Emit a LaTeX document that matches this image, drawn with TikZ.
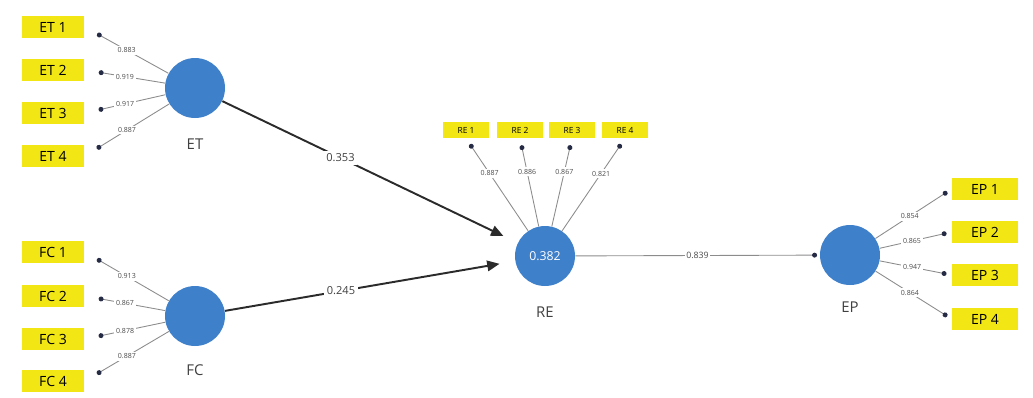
\documentclass[tikz,border=0pt]{standalone}
\usepackage{fontspec}
\setmainfont{Open Sans}
\usepackage{tikz}
\usetikzlibrary{arrows.meta, positioning}
\definecolor{latentBlue}{HTML}{3F80CB}
\definecolor{itemYellow}{HTML}{F2E714}
\definecolor{pathGray}{HTML}{2B2B2B}
\definecolor{dotNavy}{HTML}{262B45}

\begin{document}
\begin{tikzpicture}[x=0.02cm, y=-0.02cm,
    latent/.style={circle, fill=latentBlue, minimum size=1.2cm, inner sep=0pt, text=white, font=\fontsize{7}{8}\selectfont},
    lvname/.style={font=\fontsize{8.5}{9}\selectfont, text=black!75},
    item/.style={fill=itemYellow, minimum width=1.26cm, minimum height=0.44cm, inner sep=0pt, font=\fontsize{8}{9}\selectfont},
    smallitem/.style={fill=itemYellow, minimum width=0.92cm, minimum height=0.32cm, inner sep=0pt, font=\fontsize{4.8}{5}\selectfont},
    loading/.style={-{Circle[length=2.8pt, color=dotNavy]}, draw=black!45, line width=0.5pt, shorten >=8pt},
    weight/.style={fill=white, inner sep=1pt, text=black!70, font=\fontsize{4}{5}\selectfont},
    inner/.style={-{Triangle[length=7pt, width=6pt]}, draw=pathGray, fill=pathGray, line width=1.1pt, shorten >=9pt},
    coef/.style={fill=white, inner sep=1.5pt, text=black!75, font=\fontsize{6.3}{7}\selectfont},
]
    \useasboundingbox (0,0) rectangle (1033,397);

    \node[latent] (ET) at (195, 88) {};
    \node[latent] (FC) at (195, 316) {};
    \node[latent] (RE) at (545, 256) {0.382};
    \node[latent] (EP) at (850, 255) {};

    \node[lvname, below=0.28cm of ET] (ETname) {ET};
    \node[lvname, below=0.25cm of FC] (FCname) {FC};
    \node[lvname, below=0.28cm of RE] (REname) {RE};
    \node[lvname, below=0.2cm of EP] (EPname) {EP};

    \node[item] (ET1) at (53, 27) {ET 1};
    \node[item] (ET2) at (53, 70) {ET 2};
    \node[item] (ET3) at (53, 113) {ET 3};
    \node[item] (ET4) at (53, 156) {ET 4};

    \node[item] (FC1) at (53, 252) {FC 1};
    \node[item] (FC2) at (53, 296) {FC 2};
    \node[item] (FC3) at (53, 339) {FC 3};
    \node[item] (FC4) at (53, 381) {FC 4};

    \node[smallitem] (RE1) at (466, 130) {RE 1};
    \node[smallitem] (RE2) at (520, 130) {RE 2};
    \node[smallitem] (RE3) at (572, 130) {RE 3};
    \node[smallitem] (RE4) at (625, 130) {RE 4};

    \node[item, minimum width=1.32cm] (EP1) at (985, 189) {EP 1};
    \node[item, minimum width=1.32cm] (EP2) at (985, 232) {EP 2};
    \node[item, minimum width=1.32cm] (EP3) at (985, 275) {EP 3};
    \node[item, minimum width=1.32cm] (EP4) at (985, 319) {EP 4};

    \draw[loading] (ET) -- (ET1.east) node[weight, midway] {0.883};
    \draw[loading] (ET) -- (ET2.east) node[weight, midway] {0.919};
    \draw[loading] (ET) -- (ET3.east) node[weight, midway] {0.917};
    \draw[loading] (ET) -- (ET4.east) node[weight, midway] {0.887};

    \draw[loading] (FC) -- (FC1.east) node[weight, midway] {0.913};
    \draw[loading] (FC) -- (FC2.east) node[weight, midway] {0.867};
    \draw[loading] (FC) -- (FC3.east) node[weight, midway] {0.878};
    \draw[loading] (FC) -- (FC4.east) node[weight, midway] {0.887};

    \draw[loading, shorten >=4pt] (RE) -- (RE1.south) node[weight, pos=0.62] {0.887};
    \draw[loading, shorten >=4pt] (RE) -- (RE2.south) node[weight, pos=0.62] {0.886};
    \draw[loading, shorten >=4pt] (RE) -- (RE3.south) node[weight, pos=0.62] {0.867};
    \draw[loading, shorten >=4pt] (RE) -- (RE4.south) node[weight, pos=0.62] {0.821};

    \draw[loading, shorten >=3pt] (EP) -- (EP1.west) node[weight, pos=0.45] {0.854};
    \draw[loading, shorten >=3pt] (EP) -- (EP2.west) node[weight, pos=0.45] {0.865};
    \draw[loading, shorten >=3pt] (EP) -- (EP3.west) node[weight, pos=0.45] {0.947};
    \draw[loading, shorten >=3pt] (EP) -- (EP4.west) node[weight, pos=0.45] {0.864};

    \draw[inner] (ET) -- (RE) node[coef, pos=0.4] {0.353};
    \draw[inner] (FC) -- (RE) node[coef, pos=0.4] {0.245};
    \draw[loading, shorten >=1.5pt] (RE) -- (EP) node[weight, midway, font=\fontsize{5}{6}\selectfont] {0.839};
\end{tikzpicture}
\end{document}
